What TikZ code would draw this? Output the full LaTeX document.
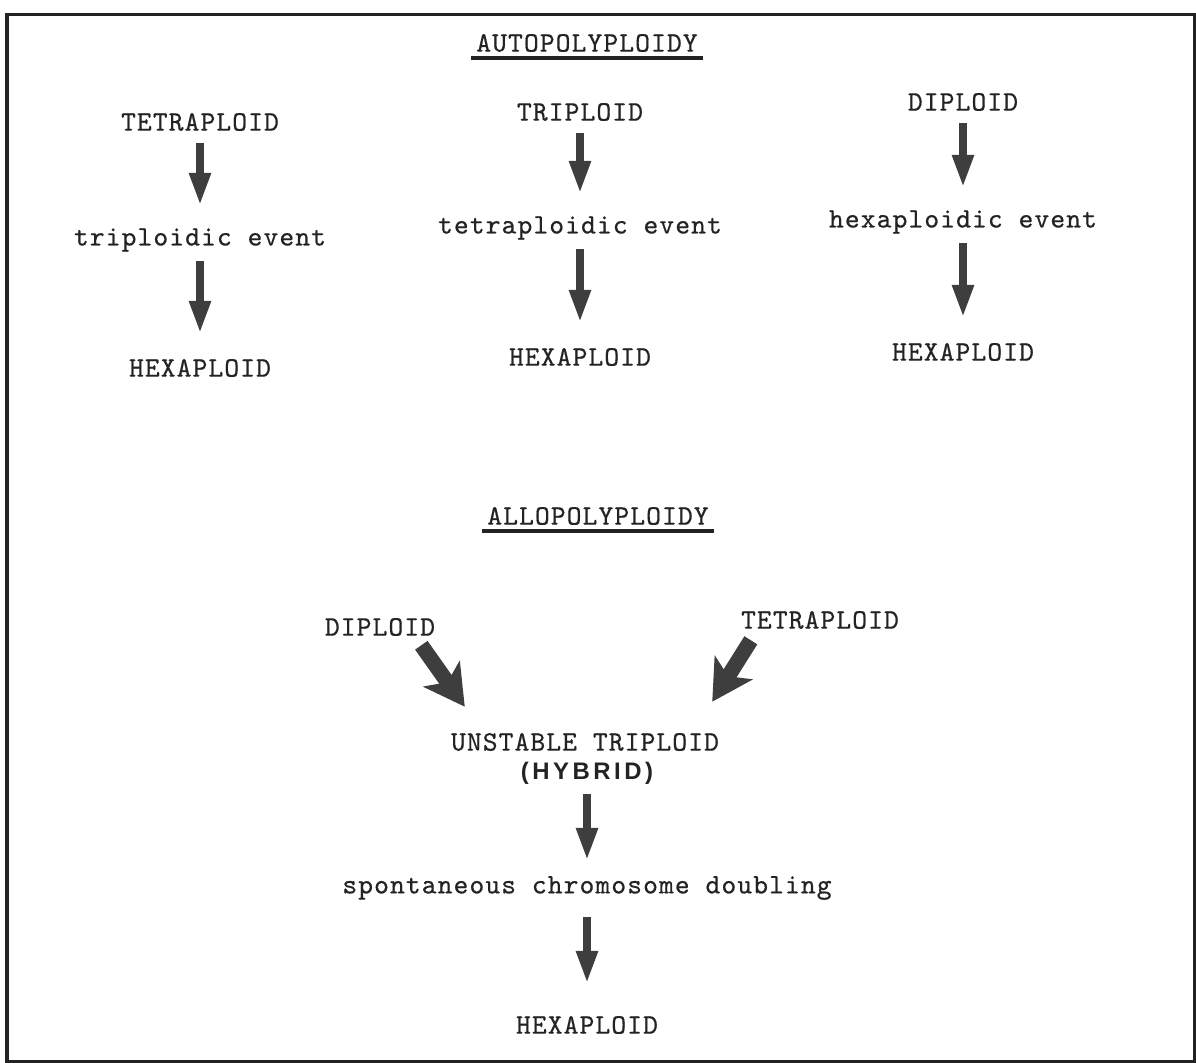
\documentclass[tikz,border=0pt]{standalone}
\usepackage{fontspec}
\usepackage{xcolor}
\usepackage{tikz}
\usetikzlibrary{arrows.meta, positioning}
\newfontfamily\typw{lmmono10-regular}[Extension=.otf, LetterSpace=4, FakeBold=0.6]
\newfontfamily\hybfont{Liberation Sans}
\definecolor{inkgray}{RGB}{35,35,35}
\definecolor{arrgray}{RGB}{62,62,62}

\begin{document}
\begin{tikzpicture}[x=0.025cm, y=-0.025cm,
  lbl/.style={inner sep=0pt, minimum height=0.75cm, font=\typw\fontsize{20}{23}\selectfont, text=inkgray},
  uline/.style={line width=0.1cm, draw=inkgray},
  arr/.style={-{Triangle[length=0.82cm, width=0.5cm]}, line width=0.2cm, draw=arrgray, shorten <=0.15cm, shorten >=0.475cm},
  fatarr/.style={-{Stealth[length=1cm, width=1.1cm, inset=0.25cm]}, line width=0.38cm, draw=arrgray}
]
\useasboundingbox (0,0) rectangle (1196,1063);
\draw[line width=0.075cm, draw=inkgray] (7,15) rectangle (1194,1061);

\node[lbl] (auto) at (587,43) {AUTOPOLYPLOIDY};
\draw[uline] ([shift={(-5,0)}]auto.south west) -- ([shift={(5,0)}]auto.south east);

\node[lbl] (tet1) at (200,122) {TETRAPLOID};
\node[lbl] (triev) at (200,240) {triploidic event};
\node[lbl] (hex1) at (200,368) {HEXAPLOID};
\draw[arr] (tet1) -- (triev);
\draw[arr] (triev) -- (hex1);

\node[lbl] (tri2) at (580,112) {TRIPLOID};
\node[lbl] (tetev) at (580,228) {tetraploidic event};
\node[lbl] (hex2) at (580,357) {HEXAPLOID};
\draw[arr] (tri2) -- (tetev);
\draw[arr] (tetev) -- (hex2);

\node[lbl] (dip3) at (963,102) {DIPLOID};
\node[lbl] (hexev) at (963,222) {hexaploidic event};
\node[lbl] (hex3) at (963,352) {HEXAPLOID};
\draw[arr] (dip3) -- (hexev);
\draw[arr] (hexev) -- (hex3);

\node[lbl] (allo) at (598,516) {ALLOPOLYPLOIDY};
\draw[uline] ([shift={(-5,0)}]allo.south west) -- ([shift={(5,0)}]allo.south east);

\node[lbl] (dip4) at (380,627) {DIPLOID};
\node[lbl] (tet4) at (820,620) {TETRAPLOID};
\node[lbl] (unst) at (585,742) {UNSTABLE TRIPLOID};
\node[lbl, font=\hybfont\bfseries\fontsize{17}{19}\selectfont] (hyb) at (587,773)
  {(\kern2.5pt H\kern2.5pt Y\kern2.5pt B\kern2.5pt R\kern2.5pt I\kern2.5pt D\kern2.5pt)};
\node[lbl] (spont) at (587,888) {spontaneous chromosome doubling};
\node[lbl] (hex4) at (587,1025) {HEXAPLOID};
\draw[fatarr] ([shift={(-14,3)}]dip4.south east) -- ([shift={(14,-20)}]unst.north west);
\draw[fatarr] ([shift={(10,5)}]tet4.south west) -- ([shift={(-7,-25)}]unst.north east);
\draw[arr, shorten >=0.3cm] (hyb) -- (spont);
\draw[arr, shorten <=0.35cm, shorten >=0.65cm] (spont) -- (hex4);
\end{tikzpicture}
\end{document}
